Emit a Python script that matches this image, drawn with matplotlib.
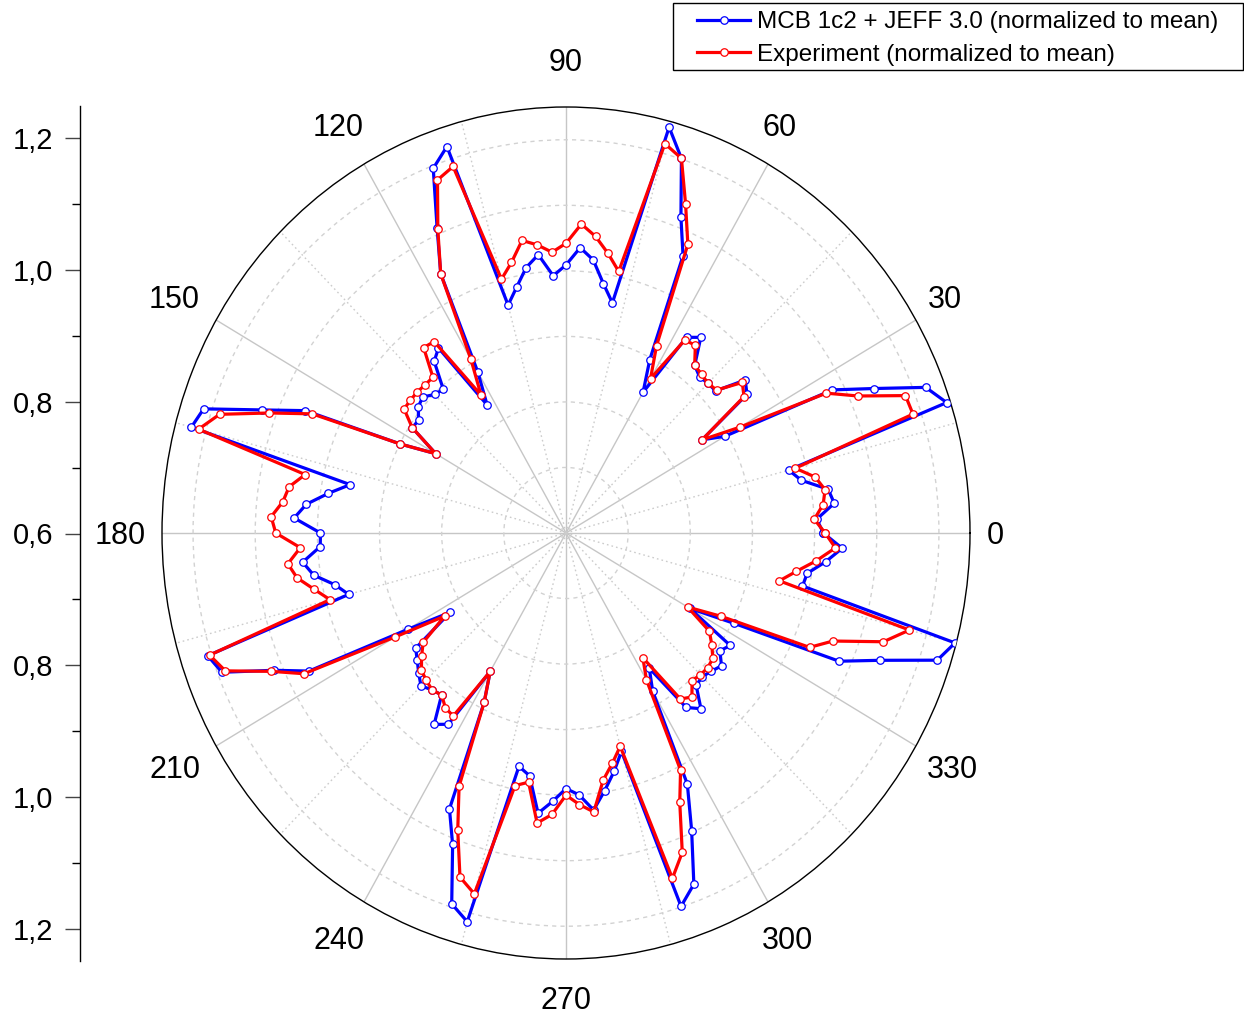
import numpy as np
import matplotlib
matplotlib.use("Agg")
import matplotlib.pyplot as plt
import matplotlib.transforms as mtransforms
from matplotlib.patches import Rectangle
from matplotlib.ticker import FixedLocator, FuncFormatter

plt.rcParams['font.family'] = ['Liberation Sans', 'DejaVu Sans']

# ---------------- data ----------------
angles_deg = [
    0, 3, 6, 9, 12, 15, 18, 21, 24, 27, 30, 33,
    36, 39, 42, 45, 48, 51, 54, 57, 60, 63, 66, 69,
    72, 75, 78, 81, 84, 87, 90, 93, 96, 99, 102, 105,
    108, 111, 114, 117, 120, 123, 126, 129, 132, 135, 138, 141,
    144, 147, 150, 153, 156, 159, 162, 165, 168, 171, 174, 177,
    180, 183, 186, 189, 192, 195, 198, 201, 204, 207, 210, 213,
    216, 219, 222, 225, 228, 231, 234, 237, 240, 243, 246, 249,
    252, 255, 258, 261, 264, 267, 270, 273, 276, 279, 282, 285,
    288, 291, 294, 297, 300, 303, 306, 309, 312, 315, 318, 321,
    324, 327, 330, 333, 336, 339, 342, 345, 348, 351, 354, 357,
]

mcb_values = [
    1.014, 1.004, 1.034, 1.027, 0.987, 0.971, 1.244, 1.220, 1.142, 1.081, 0.895, 0.861,
    0.960, 0.971, 0.924, 0.923, 0.921, 0.929, 0.969, 0.956, 0.848, 0.897, 1.063, 1.116,
    1.201, 1.241, 0.959, 0.985, 1.019, 1.036, 1.009, 0.993, 1.027, 1.010, 0.983, 0.960,
    1.220, 1.196, 1.110, 1.044, 0.884, 0.833, 0.949, 0.937, 0.895, 0.899, 0.910, 0.906,
    0.893, 0.895, 0.842, 0.899, 1.059, 1.124, 1.213, 1.224, 0.955, 0.987, 1.020, 1.038,
    0.995, 0.996, 1.026, 1.011, 0.980, 0.962, 1.206, 1.193, 1.115, 1.064, 0.894, 0.822,
    0.899, 0.908, 0.919, 0.930, 0.922, 0.918, 0.961, 0.948, 0.844, 0.890, 1.061, 1.109,
    1.195, 1.214, 0.964, 0.975, 1.030, 1.010, 0.990, 1.000, 1.025, 0.998, 0.972, 0.945,
    1.199, 1.174, 1.097, 1.030, 0.879, 0.846, 0.929, 0.945, 0.913, 0.910, 0.915, 0.922,
    0.906, 0.915, 0.830, 0.904, 1.081, 1.142, 1.228, 1.248, 0.989, 0.993, 1.020, 1.045,
]

exp_values = [
    1.017, 1.000, 1.016, 1.022, 1.010, 0.982, 1.187, 1.185, 1.114, 1.070, 0.923, 0.861,
    0.954, 0.965, 0.926, 0.923, 0.926, 0.929, 0.954, 0.951, 0.872, 0.921, 1.082, 1.137,
    1.201, 1.215, 1.008, 1.032, 1.055, 1.072, 1.042, 1.029, 1.042, 1.052, 1.022, 1.001,
    1.188, 1.177, 1.107, 1.044, 0.906, 0.851, 0.961, 0.964, 0.920, 0.920, 0.922, 0.922,
    0.922, 0.895, 0.842, 0.899, 1.047, 1.111, 1.186, 1.212, 1.029, 1.051, 1.058, 1.075,
    1.067, 1.028, 1.050, 1.038, 1.014, 0.993, 1.203, 1.187, 1.119, 1.073, 0.917, 0.833,
    0.884, 0.899, 0.913, 0.918, 0.922, 0.918, 0.930, 0.933, 0.844, 0.890, 1.023, 1.086,
    1.152, 1.170, 0.994, 0.985, 1.045, 1.030, 1.000, 1.015, 1.028, 0.982, 0.959, 0.937,
    1.154, 1.122, 1.050, 1.006, 0.859, 0.827, 0.913, 0.922, 0.903, 0.906, 0.907, 0.904,
    0.890, 0.875, 0.826, 0.880, 1.029, 1.060, 1.137, 1.172, 0.951, 0.975, 1.005, 1.034,
]

series_labels = ["MCB 1c2 + JEFF 3.0 (normalized to mean)",
                 "Experiment (normalized to mean)"]
theta_tick_labels = ["0", "30", "60", "90", "120", "150",
                     "180", "210", "240", "270", "300", "330"]
theta_tick_deg = [0, 30, 60, 90, 120, 150, 180, 210, 240, 270, 300, 330]
r_min, r_max = 0.6, 1.25
left_major = [-0.6, -0.4, -0.2, 0.0, 0.2, 0.4, 0.6]
left_minor = [-0.5, -0.3, -0.1, 0.1, 0.3, 0.5]

# label placement (layout only): angle and radius where each label sits
label_pos_deg = [0, 30.5, 61.1, 90, 120.5, 150.3, 180, 209.6, 239.4, 270, 300, 330.1]
label_pos_r = [1.291, 1.307, 1.310, 1.321, 1.321, 1.325, 1.318, 1.324, 1.318,
               1.310, 1.314, 1.317]

# ---------------- figure ----------------
W, H = 1244, 1016
fig = plt.figure(figsize=(W / 100, H / 100), dpi=100)

px_left, px_right, px_top, px_bot = 162, 970, 107, 959
ax = fig.add_axes([px_left / W, 1 - px_bot / H, (px_right - px_left) / W,
                   (px_bot - px_top) / H], projection='polar')
ax.set_aspect('auto')
ax.set_ylim(r_min, r_max)

ax.set_xticks(np.deg2rad(theta_tick_deg))
ax.set_xticklabels([])
ax.xaxis.set_minor_locator(FixedLocator(np.deg2rad(np.arange(15, 360, 30))))
ax.set_yticks([0.7, 0.8, 0.9, 1.0, 1.1, 1.2])
ax.set_yticklabels([])
ax.tick_params(axis='x', which='major', direction='in', length=10, width=1.1,
               color='black')
ax.tick_params(axis='x', which='minor', direction='in', length=4, width=1.0,
               color='black')
ax.tick_params(axis='y', length=0)
ax.xaxis.grid(True, which='major', color='#c6c6c6', lw=1.0, ls='-')
ax.xaxis.grid(True, which='minor', color='#cccccc', lw=1.0, ls=(0, (1.2, 2.2)))
ax.yaxis.grid(True, color='#d2d2d2', lw=1.0, ls=(0, (3, 3)))
ax.set_axisbelow(True)
ax.spines['polar'].set_color('black')
ax.spines['polar'].set_linewidth(1.0)

th = np.deg2rad(np.array(angles_deg + [angles_deg[0] + 360]))
mcb_r = np.array(mcb_values + [mcb_values[0]])
exp_r = np.array(exp_values + [exp_values[0]])

l1, = ax.plot(th, mcb_r, color='#0000ff', lw=2.3, marker='o', ms=5.4,
              mfc='white', mec='#0000ff', mew=0.9, label=series_labels[0],
              zorder=3)
l2, = ax.plot(th, exp_r, color='#ff0000', lw=2.3, marker='o', ms=5.4,
              mfc='white', mec='#ff0000', mew=0.9, label=series_labels[1],
              zorder=4)

# theta labels (nudged 2 px down to centre the digits)
lab_trans = mtransforms.offset_copy(ax.transData, fig=fig, x=0, y=-2.5,
                                    units='dots')
for a, rr, lab in zip(label_pos_deg, label_pos_r, theta_tick_labels):
    ax.text(np.deg2rad(a), rr, lab, ha='center', va='center', fontsize=22,
            clip_on=False, transform=lab_trans)

# ---------------- left radial axis ----------------
ax_top, ax_bot = 106, 961
axl = fig.add_axes([80 / W, 1 - ax_bot / H, 0.0005, (ax_bot - ax_top) / H])
axl.patch.set_visible(False)
for s in ['top', 'right', 'bottom']:
    axl.spines[s].set_visible(False)
axl.spines['left'].set_linewidth(1.0)
axl.set_ylim(-0.648, 0.648)
axl.set_xticks([])
axl.set_yticks(left_major)
axl.yaxis.set_minor_locator(FixedLocator(left_minor))
axl.yaxis.set_major_formatter(
    FuncFormatter(lambda v, p: f"{r_min + abs(v):.1f}".replace('.', ',')))
axl.tick_params(axis='y', which='major', direction='out', length=11, width=1.0,
                color='#444444', labelsize=21, pad=8)
axl.tick_params(axis='y', which='minor', direction='out', length=6, width=1.0,
                color='black')

# ---------------- legend ----------------
fig.legend(handles=[l1, l2], labels=series_labels, loc='center left',
           bbox_to_anchor=(697 / W, 1 - 38.5 / H), frameon=False, borderpad=0,
           borderaxespad=0, handlelength=2.2, handletextpad=0.25,
           labelspacing=0.45, fontsize=17.5)
fig.add_artist(Rectangle((673 / W, 1 - 70 / H), 570 / W, 67 / H,
                         transform=fig.transFigure, fill=False,
                         ec='black', lw=1.0))

fig.savefig("out.png", dpi=100)
